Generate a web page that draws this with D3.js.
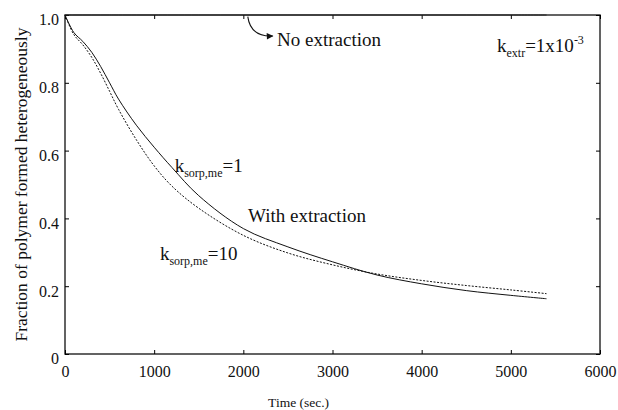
<!DOCTYPE html>
<html>
<head>
<meta charset="utf-8">
<script src="https://cdn.jsdelivr.net/npm/d3@7"></script>
<style>
    body { margin: 0; background: #fff; }
    svg text { font-family: "Liberation Serif", "Times New Roman", serif; fill: #111; }
</style>
</head>
<body>
<div id="chart"></div>
<script>
// time points (sec.)
const times = [0, 100, 200, 300, 400, 500, 600, 800, 1000, 1200, 1500, 2000, 2500, 3000, 3500, 4000, 4500, 5000, 5400];
// fraction formed heterogeneously, k_sorp,me = 1 (solid)
const kSorp1 = [1.0, 0.948, 0.922, 0.89, 0.848, 0.80, 0.752, 0.675, 0.61, 0.55, 0.467, 0.37, 0.316, 0.272, 0.233, 0.207, 0.187, 0.173, 0.163];
// fraction formed heterogeneously, k_sorp,me = 10 (dotted)
const kSorp10 = [1.0, 0.942, 0.912, 0.875, 0.828, 0.775, 0.722, 0.632, 0.555, 0.495, 0.43, 0.35, 0.298, 0.263, 0.236, 0.217, 0.202, 0.189, 0.178];
// no extraction stays at 1
const noExtraction = [1.0, 1.0, 1.0, 1.0, 1.0, 1.0, 1.0, 1.0, 1.0, 1.0, 1.0, 1.0, 1.0, 1.0, 1.0, 1.0, 1.0, 1.0, 1.0];

const xTicks = [0, 1000, 2000, 3000, 4000, 5000, 6000];
const yTicks = [0, 0.2, 0.4, 0.6, 0.8, 1.0];
const yTickLabels = ["0", "0.2", "0.4", "0.6", "0.8", "1.0"];

function draw() {
    let width = 618;
    let height = 410;
    let margin = { top: 15, right: 18, bottom: 56, left: 65 };
    let w = width - margin.left - margin.right;
    let h = height - margin.top - margin.bottom;
    let serif = "'Liberation Serif', 'Times New Roman', serif";

    let svg = d3.select("#chart").append("svg")
        .attr("width", width)
        .attr("height", height)
        .append("g")
        .attr("transform", "translate(" + margin.left + "," + margin.top + ")");

    let x = d3.scaleLinear().domain([0, 6000]).range([0, w]);
    let y = d3.scaleLinear().domain([0, 1]).range([h, 0]);

    // frame
    svg.append("rect")
        .attr("width", w)
        .attr("height", h)
        .attr("fill", "none")
        .attr("stroke", "#222")
        .attr("stroke-width", 1.4);

    // x-axis, inward ticks
    svg.append("g")
        .attr("transform", "translate(0," + h + ")")
        .call(d3.axisBottom(x).tickValues(xTicks).tickFormat(d3.format("d"))
            .tickSizeInner(-4).tickSizeOuter(0).tickPadding(12))
        .attr("font-family", null)
        .attr("font-size", null)
        .call(g => g.select(".domain").remove())
        .call(g => g.selectAll("text").style("font-family", serif).style("font-size", "16px"));

    svg.append("g")
        .call(d3.axisTop(x).tickValues(xTicks).tickSizeInner(-4).tickSizeOuter(0).tickFormat(""))
        .call(g => g.select(".domain").remove());

    // y-axis, inward ticks
    svg.append("g")
        .call(d3.axisLeft(y).tickValues(yTicks).tickSizeInner(-4).tickSizeOuter(0).tickPadding(6)
            .tickFormat((d, i) => yTickLabels[i]))
        .attr("font-family", null)
        .attr("font-size", null)
        .call(g => g.select(".domain").remove())
        .call(g => g.selectAll("text").attr("dy", "0.62em").style("font-family", serif).style("font-size", "16px"));

    svg.append("g")
        .attr("transform", "translate(" + w + ",0)")
        .call(d3.axisRight(y).tickValues(yTicks).tickSizeInner(-4).tickSizeOuter(0).tickFormat(""))
        .call(g => g.select(".domain").remove());

    // axis titles
    svg.append("text")
        .attr("x", x(2620))
        .attr("y", h + 53)
        .style("text-anchor", "middle")
        .style("font-family", serif)
        .style("font-size", "13.5px")
        .text("Time (sec.)");

    svg.append("text")
        .attr("transform", "rotate(-90)")
        .attr("x", 0 - y(0.5))
        .attr("y", -38)
        .style("text-anchor", "middle")
        .style("font-family", serif)
        .style("font-size", "17.5px")
        .text("Fraction of polymer formed heterogeneously");

    // curves
    let line = series => d3.line()
        .x((d, i) => x(times[i]))
        .y(d => y(d))
        .curve(d3.curveCatmullRom)(series);

    svg.append("path")
        .attr("d", line(noExtraction))
        .attr("fill", "none")
        .attr("stroke", "#222")
        .attr("stroke-width", 1);

    svg.append("path")
        .attr("d", line(kSorp1))
        .attr("fill", "none")
        .attr("stroke", "#111")
        .attr("stroke-width", 1);

    svg.append("path")
        .attr("d", line(kSorp10))
        .attr("fill", "none")
        .attr("stroke", "#111")
        .attr("stroke-width", 1)
        .attr("stroke-dasharray", "2,1.5");

    // arrow pointing to "No extraction"
    svg.append("defs").append("marker")
        .attr("id", "head")
        .attr("viewBox", "0 0 10 10")
        .attr("refX", 9)
        .attr("refY", 5)
        .attr("markerWidth", 7)
        .attr("markerHeight", 6)
        .attr("orient", "auto")
        .append("path")
        .attr("d", "M0,0L10,5L0,10Z")
        .attr("fill", "#111");

    svg.append("path")
        .attr("d", "M" + x(2050) + "," + y(0.995) + "Q" + x(2080) + "," + y(0.935) + " " + x(2330) + "," + y(0.938))
        .attr("fill", "none")
        .attr("stroke", "#111")
        .attr("stroke-width", 1.1)
        .attr("marker-end", "url(#head)");

    // annotations
    svg.append("text")
        .attr("x", x(2378))
        .attr("y", y(0.908))
        .style("font-family", serif)
        .style("font-size", "19px")
        .text("No extraction");

    svg.append("text")
        .attr("x", x(2052))
        .attr("y", y(0.39))
        .style("font-family", serif)
        .style("font-size", "19px")
        .text("With extraction");

    let subLabel = (t, v, main, sub, rest, sup) => {
        let label = svg.append("text")
            .attr("x", x(t))
            .attr("y", y(v))
            .style("font-family", serif)
            .style("font-size", "19px");
        label.append("tspan").text(main);
        label.append("tspan").attr("dy", 5).style("font-size", "12px").text(sub);
        label.append("tspan").attr("dy", -5).text(rest);
        if (sup) {
            label.append("tspan").attr("dy", -8).style("font-size", "12px").text(sup);
        }
    };

    subLabel(1230, 0.536, "k", "sorp,me", "=1");
    subLabel(1065, 0.278, "k", "sorp,me", "=10");
    subLabel(4845, 0.891, "k", "extr", "=1x10", "-3");
}

draw();
</script>
</body>
</html>
